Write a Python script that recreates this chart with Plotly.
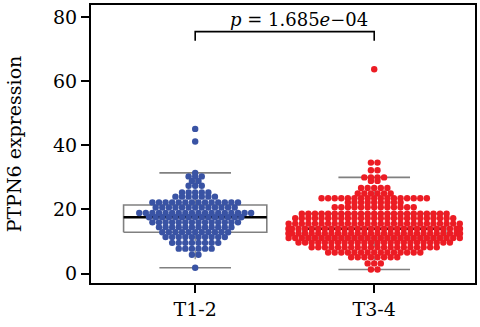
import numpy as np
import plotly.graph_objects as go

# ---------------- data ----------------
categories = ["T1-2", "T3-4"]

# beeswarm rows: row level (expression) and number of dots in it
t12_levels = [1.85, 5.9, 7.8, 9.6, 11.4, 12.9, 14.5, 16.0, 17.6, 18.9, 20.6,
              22.2, 24.0, 25.3, 27.4, 28.9, 30.3, 31.4, 41.2, 45.1]
t12_counts = [1, 2, 6, 8, 10, 11, 12, 14, 15, 18, 13,
              14, 7, 5, 3, 2, 3, 1, 1, 1]

t34_levels = [1.3, 3.2, 5.1, 6.6, 8.2, 9.7, 11.1, 12.5, 14.0, 15.6, 17.3, 18.7,
              20.7, 22.2, 23.5, 25.0, 26.7, 28.9, 30.0, 32.2, 34.6, 63.7]
t34_counts = [2, 3, 8, 15, 20, 24, 27, 28, 28, 27, 25, 23,
              13, 9, 17, 6, 5, 2, 4, 2, 2, 1]

p_label = "<i>p</i> = 1.685<i>e</i>\u221204"
y_ticks = [0, 20, 40, 60, 80]
y_title = "PTPN6 expression"

t12_values = np.repeat(np.array(t12_levels), t12_counts)
t34_values = np.repeat(np.array(t34_levels), t34_counts)

# ---------------- layout / style constants ----------------
W, H = 480, 327
M_L, M_R, M_T, M_B = 91, 4, 3, 44
X_RANGE = [-0.582, 1.563]
Y_RANGE = [-2.9, 83.7]
COLORS = ["#3953A4", "#EC1C24"]
FONT = "DejaVu Serif"
DOT = 6.4          # marker diameter (px)
SPACING = 6.6      # horizontal spacing inside a row (px)
GUTTER = 86.0      # max half-width of swarm (px)
BOX_HALF = 0.40
CAP_HALF = 0.20
GRAY = "#808080"

ppx = (W - M_L - M_R) / (X_RANGE[1] - X_RANGE[0])


def center_offsets(vals, dx, limit):
    """beeswarm 'center' layout: dots with equal level are centred in a row."""
    vals = np.asarray(vals, dtype=float)
    xs = np.zeros(len(vals))
    for lv in np.unique(vals):
        idx = np.where(vals == lv)[0]
        n = len(idx)
        xs[idx] = (np.arange(n) - (n - 1) / 2.0) * dx
    xs = np.clip(xs, -limit, limit)
    return xs / ppx


def fivenum(vals):
    v = np.sort(np.asarray(vals, dtype=float))
    n = len(v)
    n4 = np.floor((n + 3) / 2) / 2
    d = np.array([1, n4, (n + 1) / 2, n + 1 - n4, n]) - 1
    return 0.5 * (v[np.floor(d).astype(int)] + v[np.ceil(d).astype(int)])


fig = go.Figure()

groups = [t12_values, t34_values]
for k, vals in enumerate(groups):
    v = np.asarray(vals, dtype=float)
    mn, q1, med, q3, mx = fivenum(v)
    iqr = q3 - q1
    lo = v[v >= q1 - 1.5 * iqr].min()
    hi = v[v <= q3 + 1.5 * iqr].max()
    c = k
    fig.add_trace(go.Scatter(
        x=[c - BOX_HALF, c + BOX_HALF, c + BOX_HALF, c - BOX_HALF, c - BOX_HALF],
        y=[q1, q1, q3, q3, q1], mode="lines",
        line=dict(color=GRAY, width=1.6), hoverinfo="skip", showlegend=False))
    fig.add_trace(go.Scatter(
        x=[c, c, None, c, c], y=[q3, hi, None, q1, lo], mode="lines",
        line=dict(color=GRAY, width=1.2, dash="dash"), hoverinfo="skip", showlegend=False))
    fig.add_trace(go.Scatter(
        x=[c - CAP_HALF, c + CAP_HALF, None, c - CAP_HALF, c + CAP_HALF],
        y=[hi, hi, None, lo, lo], mode="lines",
        line=dict(color=GRAY, width=1.6), hoverinfo="skip", showlegend=False))
    fig.add_trace(go.Scatter(
        x=[c - BOX_HALF, c + BOX_HALF], y=[med, med], mode="lines",
        line=dict(color="black", width=2.6), hoverinfo="skip", showlegend=False))

for k, vals in enumerate(groups):
    offs = center_offsets(vals, SPACING, GUTTER)
    fig.add_trace(go.Scatter(
        x=k + offs, y=vals, mode="markers",
        marker=dict(color=COLORS[k], size=DOT, line=dict(width=0)),
        name=categories[k], showlegend=False))

# significance bracket
fig.add_trace(go.Scatter(
    x=[0, 0, 1, 1], y=[72.6, 75.4, 75.4, 72.6], mode="lines",
    line=dict(color="black", width=1.6), hoverinfo="skip", showlegend=False))
fig.add_annotation(x=0.58, y=79.2, text=p_label, showarrow=False,
                   font=dict(family=FONT, size=18, color="black"),
                   xanchor="center", yanchor="middle")

fig.update_layout(
    width=W, height=H,
    margin=dict(l=M_L, r=M_R, t=M_T, b=M_B),
    plot_bgcolor="white", paper_bgcolor="white",
    font=dict(family=FONT, size=19, color="black"),
)
fig.update_xaxes(
    range=X_RANGE, tickvals=[0, 1], ticktext=categories,
    showline=True, linecolor="black", linewidth=2, mirror=True,
    ticks="outside", ticklen=8, tickwidth=2, tickcolor="black",
    showgrid=False, zeroline=False, tickfont=dict(family=FONT, size=19))
fig.update_yaxes(
    range=Y_RANGE, tickvals=y_ticks,
    showline=True, linecolor="black", linewidth=2, mirror=True,
    ticks="outside", ticklen=8, tickwidth=2, tickcolor="black",
    showgrid=False, zeroline=False, tickfont=dict(family=FONT, size=19),
    title=dict(text=y_title, font=dict(family=FONT, size=19), standoff=26))

fig.write_html("out.html")
